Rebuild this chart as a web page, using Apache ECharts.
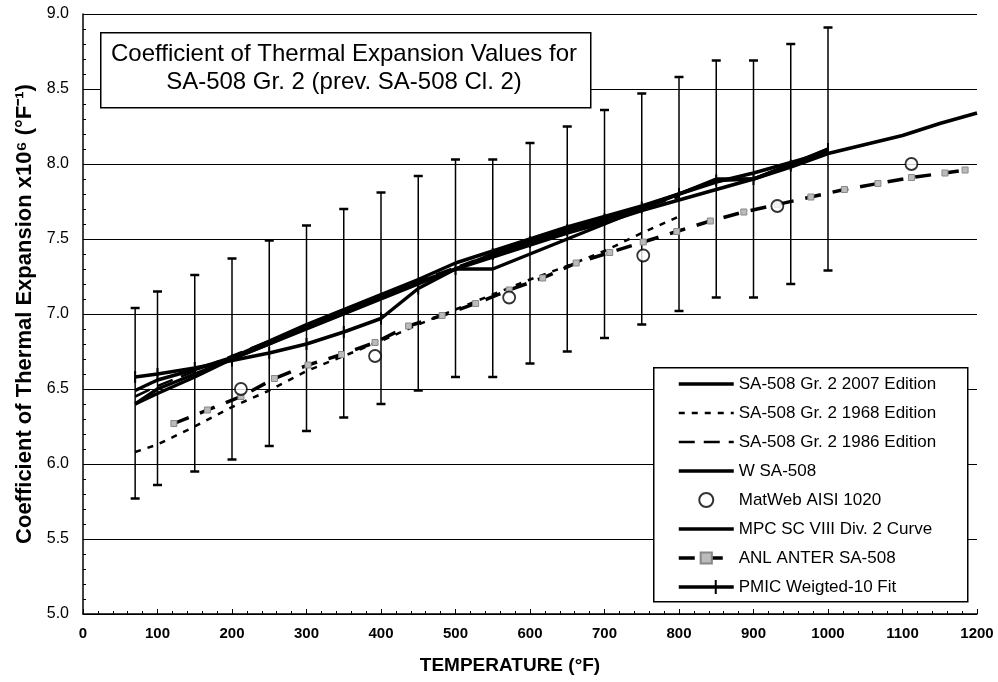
<!DOCTYPE html>
<html>
<head>
<meta charset="utf-8">
<title>Coefficient of Thermal Expansion - SA-508 Gr. 2</title>
<script src="https://cdn.jsdelivr.net/npm/echarts@6/dist/echarts.min.js"></script>
<style>
html,body{margin:0;padding:0;background:#fff;}
#chart{width:998px;height:682px;}
</style>
</head>
<body>
<div id="chart"></div>
<script>
// temperatures (°F) of the ASME table points
var tAsme = [70,100,150,200,250,300,350,400,450,500,550,600,650,700,750,800,850,900,950,1000];
// SA-508 Gr. 2 2007 Edition
var ed2007 = [6.4,6.5,6.6,6.7,6.8,6.9,7.0,7.1,7.2,7.3,7.3,7.4,7.5,7.6,7.7,7.8,7.9,7.9,8.0,8.1];
// error bar ends
var errLow  = [5.77,5.86,5.95,6.03,6.12,6.22,6.31,6.40,6.49,6.58,6.58,6.67,6.75,6.84,6.93,7.02,7.11,7.11,7.20,7.29];
var errHigh = [7.04,7.15,7.26,7.37,7.49,7.59,7.70,7.81,7.92,8.03,8.03,8.14,8.25,8.36,8.47,8.58,8.69,8.69,8.80,8.91];
// 1968 and 1986 editions
var t1968 = [70,100,150,200,250,300,350,400,450,500,550,600,650,700,750,800];
var ed1968 = [6.08,6.13,6.25,6.38,6.49,6.62,6.72,6.82,6.93,7.03,7.13,7.23,7.32,7.42,7.54,7.65];
var t1986 = [70,100,150,200,250,300,350,400,450,500,550,600,650,700,750,800];
var ed1986 = [6.45,6.52,6.62,6.72,6.82,6.92,7.02,7.12,7.22,7.31,7.40,7.48,7.56,7.64,7.71,7.78];
// W SA-508
var wSa508 = [6.49,6.56,6.63,6.71,6.82,6.93,7.03,7.13,7.23,7.34,7.42,7.50,7.58,7.65,7.72,7.80,7.88,7.94,8.01,8.08];
// MatWeb AISI 1020
var tMatweb = [212,392,572,752,932,1112];
var matweb = [6.50,6.72,7.11,7.39,7.72,8.00];
// MPC SC VIII Div. 2 curve
var tMpc = [70,100,150,200,250,300,350,400,450,500,550,600,650,700,750,800,850,900,950,1000,1050,1100,1150,1200];
var mpc = [6.40,6.47,6.58,6.70,6.80,6.91,7.01,7.11,7.21,7.30,7.38,7.46,7.54,7.61,7.69,7.76,7.83,7.90,7.98,8.07,8.13,8.19,8.27,8.34];
// ANL ANTER SA-508
var tAnl = [122,167,212,257,302,347,392,437,482,527,572,617,662,707,752,797,842,887,932,977,1022,1067,1112,1157,1184];
var anl = [6.27,6.36,6.45,6.57,6.66,6.73,6.81,6.92,6.99,7.07,7.16,7.24,7.34,7.41,7.48,7.55,7.62,7.68,7.73,7.78,7.83,7.87,7.91,7.94,7.96];
// PMIC Weigted-10 Fit
var pmic = [6.58,6.60,6.64,6.69,6.74,6.80,6.88,6.97,7.17,7.30,7.40,7.48,7.56,7.63,7.71,7.80,7.89,7.90,7.99,8.10];

var xTicks = [0,100,200,300,400,500,600,700,800,900,1000,1100,1200];
var yTicks = [5.0,5.5,6.0,6.5,7.0,7.5,8.0,8.5,9.0];

function zip(xs, ys){
    var out = [];
    for (var i = 0; i < xs.length; i++) out.push([xs[i], ys[i]]);
    return out;
}
var errData = [];
for (var i = 0; i < tAsme.length; i++) errData.push([tAsme[i], errLow[i], errHigh[i]]);

var FONT = '"Liberation Sans", Arial, sans-serif';
var NARROW = '"Liberation Sans Narrow", "Liberation Sans", Arial, sans-serif';
var noMark = {color: 'rgba(0,0,0,0)', borderWidth: 0, opacity: 0};

var chart = echarts.init(document.getElementById('chart'));
var option = {
    backgroundColor: '#fff',
    animation: false,
    grid: {left: 83, right: 21, top: 14, bottom: 68},
    xAxis: {
        type: 'value',
        min: xTicks[0], max: xTicks[xTicks.length - 1], interval: 100,
        name: 'TEMPERATURE (°F)',
        nameLocation: 'middle',
        nameGap: 42,
        nameTextStyle: {fontFamily: NARROW, fontWeight: 'bold', fontSize: 19, color: '#000',
            padding: [0, 40, 0, 0]},
        axisLine: {lineStyle: {color: '#000', width: 1.5}},
        axisTick: {inside: true, length: 5, lineStyle: {color: '#000'}},
        minorTick: {show: true, splitNumber: 5, length: 3, lineStyle: {color: '#000'}},
        axisLabel: {fontFamily: NARROW, fontWeight: 'bold', fontSize: 15, color: '#000', margin: 12,
            formatter: function(v){ return String(v); }},
        splitLine: {show: false}
    },
    yAxis: {
        type: 'value',
        min: yTicks[0], max: yTicks[yTicks.length - 1], interval: 0.5,
        name: 'Coefficient of Thermal Expansion x10\u2076 (°F\u207B\u00B9)',
        nameLocation: 'middle',
        nameGap: 46,
        nameTextStyle: {fontFamily: FONT, fontWeight: 'bold', fontSize: 22, color: '#000'},
        axisLine: {show: true, lineStyle: {color: '#000', width: 1.5}},
        axisTick: {show: true, inside: true, length: 5, lineStyle: {color: '#000'}},
        minorTick: {show: true, splitNumber: 5, length: 3, lineStyle: {color: '#000'}},
        axisLabel: {fontFamily: FONT, fontSize: 16, color: '#000', margin: 14,
            formatter: function(v){ return v.toFixed(1); }},
        splitLine: {show: true, lineStyle: {color: '#000', width: 1}}
    },
    legend: {
        orient: 'vertical',
        left: 677, top: 374,
        itemWidth: 55, itemHeight: 14, itemGap: 9,
        padding: 0,
        lineStyle: {width: 'inherit'},
        textStyle: {fontFamily: FONT, fontSize: 17, color: '#000', lineHeight: 20},
        data: [
            {name: 'SA-508 Gr. 2 2007 Edition', itemStyle: noMark},
            {name: 'SA-508 Gr. 2 1968 Edition', itemStyle: noMark},
            {name: 'SA-508 Gr. 2 1986 Edition', itemStyle: noMark},
            {name: 'W SA-508', itemStyle: noMark},
            {name: 'MatWeb AISI 1020'},
            {name: 'MPC SC VIII Div. 2 Curve', itemStyle: noMark},
            {name: 'ANL ANTER SA-508'},
            {name: 'PMIC Weigted-10 Fit', icon: 'path://M0,5.3h55v3.4h-55z M36,0h2v14h-2z'}
        ]
    },
    graphic: [
        {type: 'rect', left: 100, top: 32, shape: {width: 490, height: 75},
         style: {fill: '#fff', stroke: '#000', lineWidth: 1.5}, z: 10},
        {type: 'text', x: 344, y: 54, z: 11,
         style: {text: 'Coefficient of Thermal Expansion Values for', fontFamily: FONT, fontSize: 24,
                 fill: '#000', align: 'center', verticalAlign: 'middle'}},
        {type: 'text', x: 344, y: 82, z: 11,
         style: {text: 'SA-508 Gr. 2 (prev. SA-508 Cl. 2)', fontFamily: FONT, fontSize: 24,
                 fill: '#000', align: 'center', verticalAlign: 'middle'}},
        {type: 'rect', left: 653, top: 367, shape: {width: 314, height: 234},
         style: {fill: '#fff', stroke: '#000', lineWidth: 1.5}, z: 3}
    ],
    series: [
        {
            type: 'custom',
            data: errData,
            z: 2,
            silent: true,
            renderItem: function(params, api){
                var lo = api.coord([api.value(0), api.value(1)]);
                var hi = api.coord([api.value(0), api.value(2)]);
                var w = 4.5;
                var st = {stroke: '#000', lineWidth: 1.5};
                return {type: 'group', children: [
                    {type: 'line', shape: {x1: lo[0], y1: lo[1], x2: hi[0], y2: hi[1]}, style: st},
                    {type: 'line', shape: {x1: lo[0]-w, y1: lo[1], x2: lo[0]+w, y2: lo[1]}, style: {stroke: '#000', lineWidth: 2.5}},
                    {type: 'line', shape: {x1: hi[0]-w, y1: hi[1], x2: hi[0]+w, y2: hi[1]}, style: {stroke: '#000', lineWidth: 2.5}}
                ]};
            }
        },
        {name: 'SA-508 Gr. 2 2007 Edition', type: 'line', data: zip(tAsme, ed2007), showSymbol: false,
         lineStyle: {color: '#000', width: 3.5}, itemStyle: {color: '#000'}, z: 4},
        {name: 'SA-508 Gr. 2 1968 Edition', type: 'line', data: zip(t1968, ed1968), showSymbol: false,
         lineStyle: {color: '#000', width: 2.5, type: [6, 7]}, itemStyle: {color: '#000'}, z: 4},
        {name: 'SA-508 Gr. 2 1986 Edition', type: 'line', data: zip(t1986, ed1986), showSymbol: false,
         lineStyle: {color: '#000', width: 2.5, type: [16, 9]}, itemStyle: {color: '#000'}, z: 4},
        {name: 'W SA-508', type: 'line', data: zip(tAsme, wSa508), showSymbol: false,
         lineStyle: {color: '#000', width: 3.5}, itemStyle: {color: '#000'}, z: 4},
        {name: 'MatWeb AISI 1020', type: 'scatter', data: zip(tMatweb, matweb), symbol: 'circle', symbolSize: 12,
         itemStyle: {color: '#fff', borderColor: '#000', borderWidth: 1.8}, z: 6},
        {name: 'MPC SC VIII Div. 2 Curve', type: 'line', data: zip(tMpc, mpc), showSymbol: false,
         lineStyle: {color: '#000', width: 3.5}, itemStyle: {color: '#000'}, z: 4},
        {name: 'ANL ANTER SA-508', type: 'line', data: zip(tAnl, anl), symbol: 'rect', symbolSize: 6,
         showSymbol: true,
         lineStyle: {color: '#000', width: 3.5, type: [16, 12]},
         itemStyle: {color: '#bbb', borderColor: '#888', borderWidth: 1}, z: 5},
        {name: 'PMIC Weigted-10 Fit', type: 'line', data: zip(tAsme, pmic),
         symbol: 'rect', symbolSize: [2, 12],
         showSymbol: true,
         lineStyle: {color: '#000', width: 3.5}, itemStyle: {color: '#000'}, z: 4}
    ]
};
chart.setOption(option);
</script>
</body>
</html>
